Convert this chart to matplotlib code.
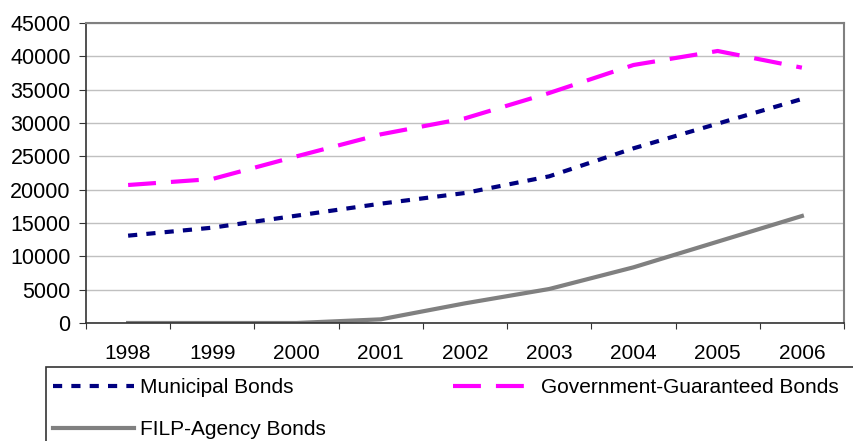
import matplotlib
matplotlib.use("Agg")
import matplotlib.pyplot as plt
from matplotlib.patches import Rectangle
from matplotlib.ticker import FixedLocator, NullFormatter

years = ["1998", "1999", "2000", "2001", "2002", "2003", "2004", "2005", "2006"]
municipal = [13100, 14300, 16100, 17900, 19500, 22000, 26200, 29900, 33600]
government = [20700, 21600, 25000, 28300, 30700, 34500, 38700, 40800, 38300]
filp = [0, 0, 0, 550, 2950, 5100, 8350, 12200, 16050]
yticks = [0, 5000, 10000, 15000, 20000, 25000, 30000, 35000, 40000, 45000]

FONT = ["Liberation Sans", "DejaVu Sans"]

W, H = 854, 441
fig = plt.figure(figsize=(W / 100, H / 100), dpi=100)
ax = fig.add_axes([86 / W, (H - 323) / H, (844 - 86) / W, 300 / H])

x = list(range(len(years)))
l_mun, = ax.plot(x, municipal, color="#000080", lw=3.0)
l_mun.set_dashes((2.2, 2.2))
l_gov, = ax.plot(x, government, color="#FF00FF", lw=3.0)
l_gov.set_dashes((6.7, 3.6))
l_filp, = ax.plot(x, filp, color="#808080", lw=3.0)

ax.set_xlim(-0.5, len(years) - 0.5)
ax.set_ylim(0, 45000)
ax.set_yticks(yticks)
ax.set_yticklabels([str(v) for v in yticks], fontsize=15.5, family=FONT)
ax.yaxis.grid(True, color="#c0c0c0", lw=1)
ax.set_axisbelow(True)

ax.xaxis.set_major_locator(FixedLocator([i - 0.5 for i in range(len(years) + 1)]))
ax.xaxis.set_major_formatter(NullFormatter())
ax.set_xticks(x, minor=True)
ax.set_xticklabels(years, minor=True, fontsize=15, family=FONT)
ax.tick_params(axis="x", which="minor", length=0, pad=15)
ax.tick_params(axis="x", which="major", length=4.5, direction="out", color="#333333")
ax.tick_params(axis="y", length=5, direction="out", color="#333333", pad=6)

for s in ["top", "right"]:
    ax.spines[s].set_color("#808080")
    ax.spines[s].set_linewidth(1.5)
for s in ["left", "bottom"]:
    ax.spines[s].set_color("#333333")
    ax.spines[s].set_linewidth(1.2)

# legend frame
fig.patches.append(Rectangle((46 / W, -0.05), (W + 10 - 46) / W, (H - 367) / H + 0.05,
                             transform=fig.transFigure, fill=False, edgecolor="#333333",
                             lw=1.2, clip_on=False))

leg = fig.legend([l_mun, l_filp, l_gov],
                 ["Municipal Bonds", "FILP-Agency Bonds", "Government-Guaranteed Bonds"],
                 ncol=2, loc="upper left", bbox_to_anchor=(53 / W, (H - 378) / H),
                 frameon=False, handlelength=3.9, handletextpad=0.3, columnspacing=6.1,
                 labelspacing=1.12, borderpad=0, borderaxespad=0,
                 prop={"family": FONT, "size": 15})

fig.savefig("out.png", dpi=100)
